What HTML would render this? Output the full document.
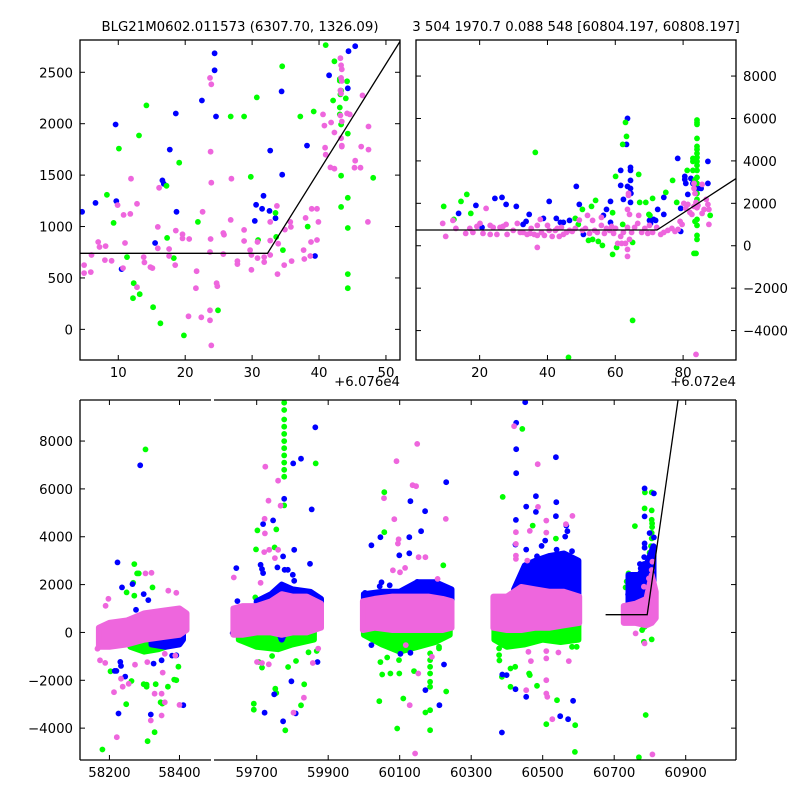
<!DOCTYPE html>
<html><head><meta charset="utf-8"><style>
html,body{margin:0;padding:0;background:#fff;}
svg text{font-family:"DejaVu Sans","Liberation Sans",sans-serif;font-size:13.3px;fill:#000;}
</style></head><body>
<svg id="chart" width="800" height="800" viewBox="0 0 800 800" xmlns="http://www.w3.org/2000/svg">
<defs>
<clipPath id="cTL"><rect x="80" y="40" width="320" height="320"/></clipPath>
<clipPath id="cTR"><rect x="416" y="40" width="320" height="320"/></clipPath>
<clipPath id="cBL"><rect x="80" y="400" width="131" height="360"/></clipPath>
<clipPath id="cBR"><rect x="214" y="400" width="522" height="360"/></clipPath>
</defs>
<text x="240" y="31" text-anchor="middle">BLG21M0602.011573 (6307.70, 1326.09)</text>
<text x="576" y="31" text-anchor="middle">3 504 1970.7 0.088 548 [60804.197, 60808.197]</text>
</svg>
<script>
// ---------- model ----------
const modelBase = 740, modelT0 = 60792.3, modelSlope = 104;

// ---------- top-left panel (x = MJD - 60760) ----------
const tlBlue = [[4.6,1143],[6.6,1230],[9.6,1992],[9.7,1247],[10.5,586],[16.6,1449],[16.8,1416],[17.7,1748],[18.6,2099],[18.7,1143],[15.5,840],[22.5,2226],[24.4,2685],[24.4,2519],[24.6,2070],[31.7,1299],[30.6,1211],[31.5,1172],[32.6,1152],[30.4,1055],[32.7,1738],[33.5,1081],[34.4,2314],[34.5,1504],[38.2,1787],[39.4,713],[41.5,2471],[44.4,2705],[44.3,2344],[45.4,2754]];
const tlGreen = [[14.2,2178],[10.1,1758],[13.1,1885],[19.1,1621],[8.3,1309],[9.3,1035],[17.2,1396],[11.3,703],[12.3,449],[13.2,342],[12.2,303],[15.2,215],[16.3,59],[17.3,889],[18.3,693],[19.8,-59],[21.9,1045],[24.9,185],[26.8,2070],[28.8,2070],[30.7,2256],[29.8,1484],[30.9,869],[34.5,2558],[33.5,1133],[33.6,899],[34.6,771],[37.2,2070],[39.2,2119],[38.3,999],[41.0,2764],[42.3,2607],[43.1,2435],[43.1,2418],[43.1,2158],[43.1,2090],[43.3,2321],[43.2,2285],[43.3,1992],[44.2,2412],[44.0,2246],[44.3,1904],[43.3,1494],[43.3,1191],[44.3,1279],[44.3,986],[44.3,537],[44.3,400],[48.1,1474],[42.1,2226]];
const tlPink = [[4.9,625],[4.9,547],[5.9,557],[6.0,723],[7.0,850],[7.2,801],[8.1,810],[8.0,674],[9.0,667],[9.9,1208],[10.8,1113],[11.0,840],[10.7,596],[11.8,1123],[11.9,1465],[12.8,1221],[12.8,410],[13.8,703],[13.9,651],[14.8,605],[15.1,596],[15.9,996],[15.9,788],[16.1,1377],[17.6,781],[17.6,713],[18.6,960],[18.5,625],[19.6,924],[19.6,885],[20.6,879],[20.5,127],[21.6,400],[21.7,566],[22.6,1143],[22.4,117],[23.7,2445],[23.9,2383],[23.8,1728],[23.9,1426],[23.8,879],[23.7,752],[23.7,185],[23.7,88],[23.9,-156],[24.7,449],[24.8,420],[25.7,732],[25.7,937],[25.8,921],[26.9,1465],[26.8,1064],[27.8,664],[27.8,635],[28.8,967],[28.8,859],[29.7,771],[29.9,723],[29.9,579],[30.8,850],[30.8,693],[31.8,703],[31.8,654],[32.7,723],[32.7,1045],[32.7,863],[33.7,1201],[33.9,833],[33.8,537],[34.9,970],[34.8,625],[35.7,1045],[35.8,996],[35.9,664],[38.0,1084],[37.7,771],[37.8,684],[38.9,1172],[38.8,850],[38.7,713],[39.7,1172],[39.9,1045],[39.7,869],[40.6,2090],[40.8,1982],[40.9,1767],[41.0,1699],[41.7,1575],[41.8,2012],[42.3,1562],[42.3,1914],[43.2,2637],[43.3,2568],[43.4,2529],[43.3,2445],[43.4,2415],[43.2,2324],[43.3,2295],[43.2,2080],[43.4,2021],[43.3,1859],[43.4,1787],[43.4,1777],[44.2,2100],[44.6,2090],[45.4,1640],[45.3,1572],[46.2,1572],[46.3,1777],[46.5,2275],[47.4,1973],[47.4,1748],[47.3,1045]];
const tlXTicks = [10,20,30,40,50];
const tlYTicks = [0,500,1000,1500,2000,2500];

// ---------- top-right panel (x = MJD - 60720) ----------
const trBlue = [[13.8,1525],[18.9,1902],[20.7,865],[24.5,2232],[26.6,2279],[27.8,1949],[30.8,1855],[32.8,1006],[33.7,1148],[34.6,1478],[38.8,1289],[40.5,2091],[42.6,1289],[43.8,1100],[44.7,1100],[46.5,1195],[48.5,2798],[49.4,1949],[50.6,534],[56.5,1430],[57.4,1713],[58.6,2091],[58.6,1100],[61.6,3553],[61.6,2845],[62.4,2185],[63.3,4779],[63.6,6005],[63.6,2798],[64.5,3694],[64.5,3553],[64.5,3081],[64.5,2704],[64.6,2468],[64.5,2044],[70.1,1195],[70.4,1053],[71.3,1242],[71.9,1195],[72.5,1713],[74.3,2279],[74.3,1478],[78.4,4119],[80.5,3128],[80.5,3270],[80.8,2940],[81.4,2421],[82.3,3175],[82.9,2940],[83.5,2798],[84.4,2704],[85.3,2704],[87.3,3977],[87.3,2940],[79.3,1760],[79.3,676]];
const trGreen = [[9.4,1855],[14.5,2091],[16.2,2421],[17.4,1525],[12.4,1242],[36.4,4402],[48.2,1289],[49.1,1006],[50.3,1713],[52.1,252],[53.0,1855],[53.3,299],[54.2,2138],[55.0,204],[56.2,16],[59.2,1556],[59.2,-409],[60.1,3270],[60.4,-79],[62.2,4779],[63.0,5816],[63.3,5156],[62.2,1006],[65.1,157],[65.1,-3521],[66.9,3364],[67.2,2044],[69.0,2044],[69.9,1478],[70.2,1430],[71.0,2232],[74.9,2515],[76.9,3081],[78.1,2044],[81.2,3553],[82.9,3553],[82.9,4119],[84.1,5926],[84.1,5816],[84.1,5722],[84.1,5062],[84.1,4684],[84.1,4543],[84.1,4354],[84.1,4166],[84.1,3977],[84.1,3788],[84.1,3553],[84.1,3223],[84.1,2940],[84.1,2468],[84.1,2185],[84.1,1242],[84.1,959],[84.1,487],[84.1,299],[83.8,-362],[83.2,-362],[83.5,1148],[88.0,1430],[46.2,-5266],[82.9,3977],[83.5,3097]];
const trPink = [[9.1,1053],[10.0,440],[12.1,1195],[13.0,817],[15.9,582],[17.1,817],[18.0,629],[19.2,912],[20.1,1053],[21.0,582],[21.9,1761],[23.1,959],[23.1,534],[24.0,865],[25.1,534],[26.0,865],[26.9,912],[27.8,1006],[28.1,534],[29.9,723],[31.1,1053],[32.0,629],[32.8,629],[34.0,534],[34.9,582],[35.2,817],[36.1,534],[37.0,959],[37.0,-79],[37.0,487],[37.9,1242],[38.2,629],[39.1,487],[40.0,959],[40.5,723],[41.4,440],[42.3,723],[42.9,817],[43.5,440],[44.1,865],[44.7,534],[45.6,629],[46.5,723],[47.3,676],[48.2,817],[49.4,1210],[50.3,723],[51.2,817],[51.8,1430],[52.4,582],[53.3,1195],[53.9,723],[54.7,629],[55.9,959],[55.9,1336],[56.8,582],[57.4,817],[58.3,723],[58.9,912],[59.5,582],[60.1,817],[60.7,110],[61.6,440],[61.9,110],[62.4,629],[63.0,110],[63.6,-173],[63.6,-503],[63.6,865],[63.6,1713],[63.9,2468],[63.9,2374],[64.2,1478],[64.2,299],[64.8,629],[65.7,865],[66.6,1053],[66.9,1430],[67.8,629],[68.7,817],[69.6,582],[70.1,959],[71.0,629],[72.2,865],[73.4,534],[74.3,629],[75.5,723],[76.7,817],[77.6,676],[78.5,770],[79.1,1148],[79.7,1006],[80.2,1996],[80.8,1761],[81.4,1949],[82.0,1572],[82.6,1478],[83.2,1855],[83.2,2940],[83.2,2704],[83.5,2468],[83.8,2044],[84.1,1792],[84.4,1902],[85.6,1525],[86.2,1713],[86.8,2185],[87.3,1949],[87.6,1713],[87.6,1006],[83.8,-5125],[85.6,2892]];
const trXTicks = [20,40,60,80];
const trYTicks = [-4000,-2000,0,2000,4000,6000,8000];

// ---------- bottom panel (full MJD) ----------
const bBlue = [[58288,6985],[58223,2927],[58236,1882],[58263,516],[58276,948],[58266,2021],[58311,1352],[58226,-3388],[58318,-3431],[58411,-3041],[58245,-1846],[58233,-1400],[58231,-1233],[58220,-1609],[58349,-1163],[58379,-969],[58391,-955],[58298,1603],[58326,-1303],[58215,-1609],
[59774,-3716],[59722,-3354],[59797,-2042],[59749,-2587],[59809,-3383],[59777,5588],[59802,7066],[59824,7262],[59864,8573],[59854,5142],[59746,4682],[59718,4528],[59805,3455],[59774,3177],[59849,2871],[59643,2690],[59715,2648],[59711,2829],[59718,2480],[59758,2718],[59778,2620],[59787,2620],[59801,2411],[59805,2160],[59870,-1234],[59633,-28],[59646,1310],
[60230,6280],[60130,5485],[60171,5067],[60160,4230],[60127,3979],[60021,3644],[60046,3979],[60099,3226],[60127,3310],[60003,1651],[60172,-2412],[60211,-3040],[60224,-1339],[60021,-530],[60102,-893],[60130,-851],[60072,1972],[60049,2097],[60149,2111],[60044,1930],
[60451,9625],[60426,8761],[60426,7659],[60426,6655],[60537,7324],[60481,5693],[60454,5261],[60538,5442],[60425,4704],[60481,5038],[60537,4857],[60566,4467],[60569,4230],[60563,4007],[60507,3840],[60539,3463],[60424,3672],[60497,3617],[60454,3463],[60387,-1757],[60399,-1785],[60424,-2371],[60454,-2692],[60549,-3500],[60571,-3626],[60585,-2859],[60386,-4183],[60484,3184],[60582,3394],
[60785,6021],[60811,5812],[60785,4851],[60799,4153],[60811,3973],[60785,3723],[60785,3542],[60801,3263],[60784,3151],[60783,2860],[60772,2860],[60774,2678],[60748,2357],[60746,2036],[60743,1952],[60760,1994],[60777,2105],[60783,2161],[60739,1589],[60767,1380],[60795,1715],[60803,2510],[60806,3193],[60807,2887]];
const bGreen = [[58303,7653],[58180,-4893],[58309,-4546],[58329,-4168],[58271,2856],[58279,2467],[58284,2467],[58248,-2998],[58306,-2179],[58351,-2974],[58391,-1998],[58385,-1970],[58203,-1624],[58263,-2028],[58298,-2165],[58332,-2165],[58323,1882],[58346,-2919],[58268,2077],[58271,1534],[58249,1673],[58306,-2270],[58367,-2270],[58397,-1434],
[59777,9603],[59777,9300],[59777,8900],[59777,8600],[59777,8300],[59777,8000],[59777,7700],[59777,7400],[59777,7100],[59777,6800],[59777,6509],[59777,5309],[59702,4264],[59698,3469],[59750,3553],[59755,4306],[59696,1464],[59658,614],[59706,-1234],[59715,-1471],[59692,-2977],[59692,-3228],[59752,-2350],[59755,-2531],[59780,-4092],[59788,-1443],[59810,-1192],[59833,-2168],[59824,-3046],[59865,7067],[59845,-830],[59868,-774],[59793,-188],[59654,-328],[59743,-983],[59734,-607],
[60057,5861],[60057,4188],[60222,2808],[60043,-2873],[60093,-4016],[60185,-4086],[60110,-2761],[60172,-3347],[60185,-3250],[60230,-2468],[60074,-1715],[60051,-1757],[60099,-1715],[60046,-1241],[60185,-2273],[60185,-2064],[60185,-1715],[60185,-1436],[60185,-1157],[60185,-878],[60140,-1617],[60065,-1046],[60210,-669],[60222,-209],[60098,-1157],[60210,-600],
[60443,8510],[60388,5665],[60472,4467],[60537,3923],[60410,-1506],[60423,-1436],[60464,-1785],[60484,-2231],[60462,-1715],[60386,-1855],[60379,-1171],[60378,-948],[60410,-2273],[60540,-2831],[60510,-3835],[60591,-3877],[60590,-4993],[60582,-600],[60595,-600],[60378,-669],[60390,-530],[60404,-320],
[60786,5854],[60805,5854],[60785,5184],[60805,5100],[60805,4710],[60806,4557],[60806,4404],[60805,4167],[60805,3929],[60803,3610],[60799,3332],[60758,4446],[60740,2467],[60735,2133],[60732,1882],[60772,1771],[60779,2399],[60806,795],[60806,446],[60785,237],[60778,98],[60783,-390],[60805,-293],[60788,-3451],[60769,-5221],[60806,2747],[60808,2189],[60809,1910],[60809,1492]];
const bPink = [[58221,-4377],[58349,-3472],[58318,-3681],[58391,1659],[58368,1743],[58320,2495],[58303,2467],[58197,1408],[58189,1115],[58213,-2496],[58238,-2270],[58255,-2148],[58233,-1934],[58273,-1350],[58308,-1239],[58329,-2561],[58349,-2561],[58358,-2919],[58400,-3027],[58358,-893],[58388,-969],[58352,-1680],[58188,-1274],[58173,-1163],[58166,-681],
[59724,6928],[59760,6342],[59767,5296],[59733,5505],[59722,4752],[59723,4139],[59721,3358],[59735,3455],[59760,3455],[59751,3107],[59711,2075],[59636,2298],[59715,-1276],[59734,-1331],[59803,-3354],[59832,-2727],[59857,-1276],[59872,-676],[59701,-1234],
[60149,7883],[60091,7158],[60136,6154],[60146,6112],[60056,5610],[60085,4732],[60097,3895],[60095,3714],[60081,2599],[60101,2515],[60115,2697],[60153,3143],[60172,3143],[60229,4746],[60206,2236],[60143,-5061],[60128,-3040],[60152,-1715],[60117,-530],[60190,-1018],
[60420,8622],[60486,7033],[60487,5247],[60510,4676],[60510,4174],[60565,4523],[60583,4871],[60425,4188],[60425,3700],[60425,3212],[60425,3073],[60464,4244],[60457,3003],[60454,-2413],[60510,-1995],[60510,-2552],[60513,-2692],[60527,-3626],[60544,-837],[60573,-1199],[60510,-1087],[60467,-1199],[60460,-809],[60510,-781],
[60807,-5096],[60785,-460],[60760,-42],[60734,516],[60783,1910],[60797,2259],[60807,2956],[60805,2608]];

// dense cores (envelopes of heavily overplotted points): x, lower, upper
const pinkCoreX = [[58170,58200,58250,58300,58350,58400,58420],[59635,59660,59700,59740,59770,59800,59840,59880],[59997,60030,60080,60130,60180,60220,60245],[60362,60400,60440,60480,60520,60560,60602],[60727,60760,60790,60805,60816]];
const pinkCoreLo = [[-600,-600,-500,-300,-200,-100,100],[-100,-100,0,0,-100,0,0,200],[100,200,100,100,100,100,200],[200,100,100,200,200,300,400],[400,400,300,400,600]];
const pinkCoreHi = [[200,400,500,800,900,1000,800],[1000,1100,1100,1300,1600,1500,1500,1200],[1300,1400,1500,1500,1500,1400,1300],[1500,1500,1900,1800,1700,1700,1500],[1100,1200,1400,2400,1700]];
const blueCoreX = [[58320,58360,58400,58410],[59700,59740,59770,59800,59850,59880],[60000,60050,60100,60150,60200,60245],[60420,60450,60480,60520,60560,60600],[60740,60770,60795,60810]];
const blueCoreLo = [[-500,-600,-500,-300],[800,900,-300,800,900,800],[1000,1200,1200,1200,1200,900],[1200,1400,1400,1400,1400,1200],[1200,1300,1400,2000]];
const blueCoreHi = [[0,100,100,100],[1300,1600,2000,1800,1700,1400],[1600,1700,1700,2100,2100,1800],[1800,2800,3000,3200,3300,3000],[2400,2400,3000,3600]];
const greenCoreX = [[58260,58300,58340,58380],[59650,59700,59760,59800,59860],[60000,60050,60100,60150,60200,60240],[60365,60400,60450,60500,60550,60600],[60780,60800,60808]];
const greenCoreLo = [[-600,-800,-700,-500],[-300,-600,-700,-500,-300],[-100,-500,-800,-600,-400,-100],[-300,-600,-500,-300,-400,-300],[300,800,500]];
const greenCoreHi = [[-200,-300,-300,-200],[100,200,100,100,100],[300,300,300,300,300,300],[300,300,300,400,400,400],[1500,3000,3500]];

const bLeftXTicks = [58200,58400];
const bRightXTicks = [59700,59900,60100,60300,60500,60700,60900];
const bYTicks = [-4000,-2000,0,2000,4000,6000,8000];

// ---------- drawing ----------
const NS = 'http://www.w3.org/2000/svg';
const svg = document.getElementById('chart');
const COL = {blue:'#0000ff', green:'#00ff00', pink:'#ee66dd'};
function mk(tag, attrs, parent){ const e=document.createElementNS(NS,tag); for(const k in attrs) e.setAttribute(k,attrs[k]); (parent||svg).appendChild(e); return e; }
function scale(d0,d1,p0,p1){ return v => p0 + (v-d0)*(p1-p0)/(d1-d0); }

function drawPoints(g, pts, sx, sy, col, name){
  for(const p of pts){
    const c = mk('circle',{cx:sx(p[0]).toFixed(1),cy:sy(p[1]).toFixed(1),r:2.9,fill:col},g);
    
    
  }
}
function drawCore(g, xs, lo, hi, sx, sy, col, name){
  let d='';
  for(let i=0;i<xs.length;i++) d += (i?'L':'M')+sx(xs[i]).toFixed(1)+','+sy(hi[i]).toFixed(1);
  for(let i=xs.length-1;i>=0;i--) d += 'L'+sx(xs[i]).toFixed(1)+','+sy(lo[i]).toFixed(1);
  const p = mk('path',{d:d+'Z',fill:col,stroke:col,'stroke-width':6,'stroke-linejoin':'round'},g);
  
  
}
function modelPath(g, x0, x1, sx, sy, off, name){
  const xa = x0+off, xb = x1+off;
  const pts = [[xa, modelBase]];
  if (modelT0 > xa && modelT0 < xb) pts.push([modelT0, modelBase]);
  pts.push([xb, modelBase + modelSlope*Math.max(0, xb-modelT0)]);
  const d = pts.map((p,i)=>(i?'L':'M')+sx(p[0]-off).toFixed(1)+','+sy(p[1]).toFixed(1)).join('');
  const l = mk('path',{d:d,fill:'none',stroke:'#000','stroke-width':1.3},g);
  
  
}
function frame(x,y,w,h,name){
  const r = mk('rect',{x:x,y:y,width:w,height:h,fill:'none',stroke:'#000','stroke-width':1.3});
  
  
}
function xTicks(ticks, sx, yTop, yBot, label, name){
  for(const t of ticks){
    const x = sx(t);
    mk('line',{x1:x,y1:yBot,x2:x,y2:yBot-5,stroke:'#000','stroke-width':1});
    mk('line',{x1:x,y1:yTop,x2:x,y2:yTop+5,stroke:'#000','stroke-width':1});
    if(label){
      const tx = mk('text',{x:x,y:yBot+17,'text-anchor':'middle'});
      tx.textContent = t;
      
      
    }
  }
}
function yTicks(ticks, sy, xL, xR, side, name, inL, inR){
  for(const t of ticks){
    const y = sy(t);
    if(inL) mk('line',{x1:xL,y1:y,x2:xL+5,y2:y,stroke:'#000','stroke-width':1});
    if(inR) mk('line',{x1:xR,y1:y,x2:xR-5,y2:y,stroke:'#000','stroke-width':1});
    if(side){
      const tx = mk('text',{x: side==='left'? xL-7 : xR+7, y:y+5,'text-anchor': side==='left'?'end':'start'});
      tx.textContent = t<0 ? '\u2212'+Math.abs(t) : t;
      
      
    }
  }
}

// top-left
{
  const sx = scale(4.28,52.1,80,400), sy = scale(-298,2814,360,40);
  const g = mk('g',{'clip-path':'url(#cTL)'});
   
  drawPoints(g, tlBlue, sx, sy, COL.blue, 'tl-blue-point');
  drawPoints(g, tlGreen, sx, sy, COL.green, 'tl-green-point');
  drawPoints(g, tlPink, sx, sy, COL.pink, 'tl-pink-point');
  modelPath(g, 4.28, 52.1, sx, sy, 60760, 'tl-model-line');
  frame(80,40,320,320,'top-left-axes-frame');
  xTicks(tlXTicks, sx, 40, 360, true, 'tl-x-tick-label');
  yTicks(tlYTicks, sy, 80, 400, 'left', 'tl-y-tick-label', true, true);
  const o = mk('text',{x:400,y:386,'text-anchor':'end'}); o.textContent='+6.076e4';
   
}
// top-right
{
  const sx = scale(1.23,95.6,416,736), sy = scale(-5387,9700,360,40);
  const g = mk('g',{'clip-path':'url(#cTR)'});
   
  drawPoints(g, trBlue, sx, sy, COL.blue, 'tr-blue-point');
  drawPoints(g, trGreen, sx, sy, COL.green, 'tr-green-point');
  drawPoints(g, trPink, sx, sy, COL.pink, 'tr-pink-point');
  modelPath(g, 1.23, 95.6, sx, sy, 60720, 'tr-model-line');
  frame(416,40,320,320,'top-right-axes-frame');
  xTicks(trXTicks, sx, 40, 360, true, 'tr-x-tick-label');
  yTicks(trYTicks, sy, 416, 736, 'right', 'tr-y-tick-label', true, true);
  const o = mk('text',{x:736,y:386,'text-anchor':'end'}); o.textContent='+6.072e4';
   
}
// bottom
{
  const sy = scale(-5332,9716,760,400);
  const sxL = scale(58116,58490,80,211), sxR = scale(59580.6,61040.7,214,736);
  const gL = mk('g',{'clip-path':'url(#cBL)'}), gR = mk('g',{'clip-path':'url(#cBR)'});
   
   
  for(const g of [gL,gR]){
    const sx = g===gL ? sxL : sxR;
    for(let i=0;i<greenCoreX.length;i++) drawCore(g, greenCoreX[i], greenCoreLo[i], greenCoreHi[i], sx, sy, COL.green, 'green-core');
    drawPoints(g, bGreen, sx, sy, COL.green, 'bottom-green-point');
    for(let i=0;i<blueCoreX.length;i++) drawCore(g, blueCoreX[i], blueCoreLo[i], blueCoreHi[i], sx, sy, COL.blue, 'blue-core');
    drawPoints(g, bBlue, sx, sy, COL.blue, 'bottom-blue-point');
    for(let i=0;i<pinkCoreX.length;i++) drawCore(g, pinkCoreX[i], pinkCoreLo[i], pinkCoreHi[i], sx, sy, COL.pink, 'pink-core');
    drawPoints(g, bPink, sx, sy, COL.pink, 'bottom-pink-point');
  }
  modelPath(gR, 60676, 61040, sxR, sy, 0, 'bottom-model-line');
  // broken-axis spines
  for(const s of [[80,400,211,400],[80,760,211,760],[80,400,80,760],[214,400,736,400],[214,760,736,760],[736,400,736,760]]){
    const l = mk('line',{x1:s[0],y1:s[1],x2:s[2],y2:s[3],stroke:'#000','stroke-width':1.3});
     
  }
  xTicks(bLeftXTicks, sxL, 400, 760, true, 'bottom-x-tick-label');
  xTicks(bRightXTicks, sxR, 400, 760, true, 'bottom-x-tick-label');
  yTicks(bYTicks, sy, 80, 736, 'left', 'bottom-y-tick-label', true, true);
}
</script>
</body></html>
